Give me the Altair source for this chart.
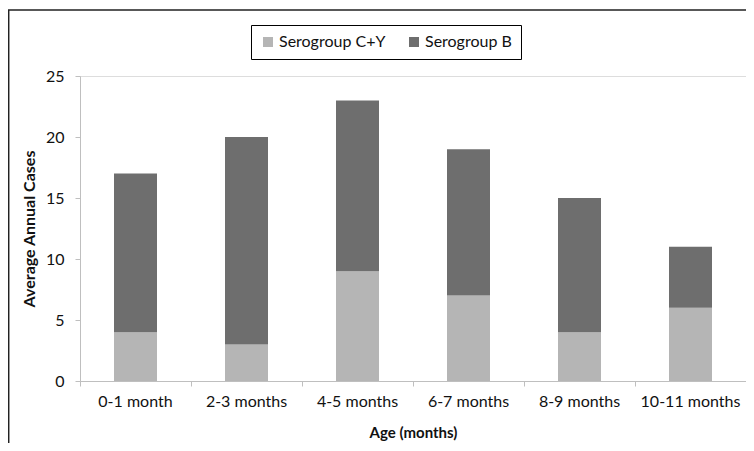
import altair as alt
import pandas as pd

categories = ["0-1 month", "2-3 months", "4-5 months", "6-7 months", "8-9 months", "10-11 months"]
series = ["Serogroup C+Y", "Serogroup B"]
cy_values = [4, 3, 9, 7, 4, 6]
b_values = [13, 17, 14, 12, 11, 5]
y_ticks = [0, 5, 10, 15, 20, 25]

rows = []
for c, v in zip(categories, cy_values):
    rows.append({"Age": c, "Series": series[0], "Cases": v, "ord": 0})
for c, v in zip(categories, b_values):
    rows.append({"Age": c, "Series": series[1], "Cases": v, "ord": 1})
df = pd.DataFrame(rows)

FONT = "Lato"
W, H = 666, 305

bars = alt.Chart(df).mark_bar(size=43).encode(
    x=alt.X("Age:N", sort=categories,
            scale=alt.Scale(paddingInner=0, paddingOuter=0),
            axis=alt.Axis(title="Age (months)", labelAngle=0, bandPosition=0,
                          tickSize=5, domainColor="#bfbfbf",
                          tickColor="#bfbfbf", labelFontSize=16, titleFontSize=15,
                          titleFontWeight="bold", labelPadding=7, titlePadding=16,
                          labelColor="#111", titleColor="#111", labelFont=FONT, titleFont=FONT)),
    y=alt.Y("Cases:Q", stack="zero",
            scale=alt.Scale(domain=[0, 25]),
            axis=alt.Axis(title="Average Annual Cases", values=y_ticks, grid=False,
                          tickSize=5, domainColor="#bfbfbf", tickColor="#bfbfbf",
                          labelFontSize=16, titleFontSize=16, titleFontWeight="bold",
                          labelPadding=11, titlePadding=8, labelColor="#111", titleColor="#111",
                          labelFont=FONT, titleFont=FONT)),
    color=alt.Color("Series:N", scale=alt.Scale(domain=series, range=["#b5b5b5", "#6e6e6e"]),
                    legend=alt.Legend(title=None, orient="none", legendX=171, legendY=-51,
                                      direction="horizontal", strokeColor="#000",
                                      padding=9, symbolType="square", symbolSize=100,
                                      symbolStrokeWidth=0, labelFontSize=16, labelFont=FONT,
                                      labelColor="#111", columnPadding=20, labelOffset=3)),
    order=alt.Order("ord:Q"),
)

frame = alt.Chart(pd.DataFrame({"a": [0]})).mark_rect(fill=None, stroke="#222", strokeWidth=1.5).encode(
    x=alt.value(-71.3), x2=alt.value(W + 40), y=alt.value(-66), y2=alt.value(H + 90)
)

chart = alt.layer(frame, bars).properties(
    width=W, height=H,
    autosize=alt.AutoSizeParams(type="none"),
    padding={"left": 72, "top": 68, "right": 0, "bottom": 62},
).configure_view(stroke=None).configure(background="white")

chart.save("out.html", embed_options={"renderer": "svg", "actions": False})
